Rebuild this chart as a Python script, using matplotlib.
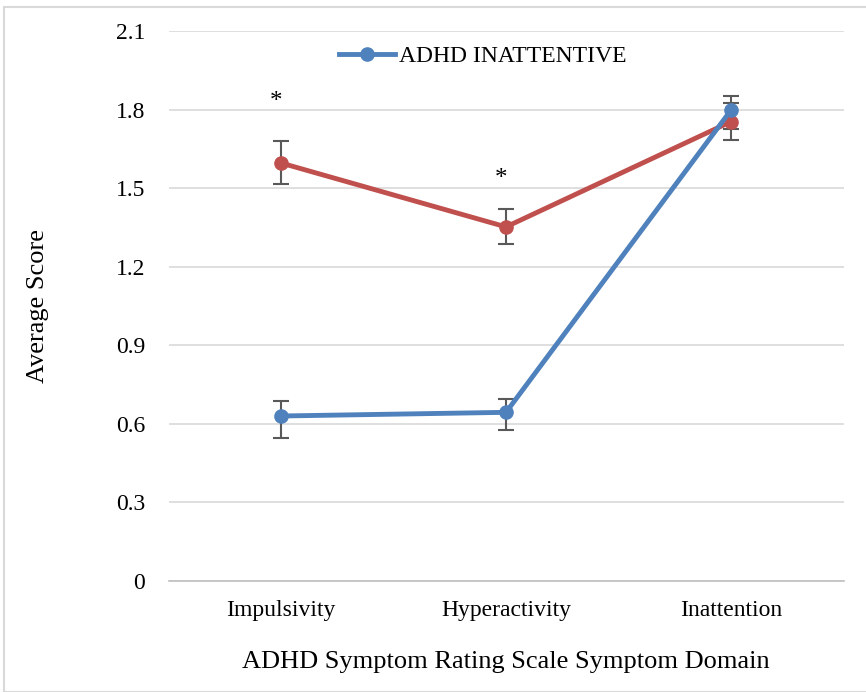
import numpy as np
import matplotlib.pyplot as plt
from matplotlib.patches import Rectangle
from matplotlib.lines import Line2D

plt.rcParams['font.family'] = ['Liberation Serif', 'DejaVu Serif']

domains = ['Impulsivity', 'Hyperactivity', 'Inattention']
inattentive = [0.63, 0.644, 1.798]
inatt_lo = [0.085, 0.067, 0.073]
inatt_hi = [0.058, 0.05, 0.055]
combined = [1.596, 1.352, 1.754]
comb_lo = [0.08, 0.065, 0.07]
comb_hi = [0.084, 0.068, 0.07]
star_pos = [0, 1]
star_y = [1.83, 1.535]

blue = '#4F81BD'
red = '#C0504D'

fig = plt.figure(figsize=(8.66, 6.92), dpi=100)
ax = fig.add_axes([168.5/866, 1-581/692, 675/866, 550/692])
x = np.arange(len(domains))

ax.errorbar(x, combined, yerr=[comb_lo, comb_hi], color=red, lw=3.5,
            marker='o', ms=9.5, ecolor='#595959', elinewidth=1.5, capsize=5.5,
            capthick=1.5, zorder=3)
ax.errorbar(x, inattentive, yerr=[inatt_lo, inatt_hi], color=blue, lw=3.5,
            marker='o', ms=9.5, ecolor='#595959', elinewidth=1.5, capsize=5.5,
            capthick=1.5, zorder=3)

for i, yv in zip(star_pos, star_y):
    ax.text(x[i] - 0.02, yv, '*', ha='center', va='center', fontsize=18)

ax.set_xlim(-0.5, 2.5)
ax.set_ylim(0, 2.1)
ax.set_yticks(np.arange(0, 2.11, 0.3))
ax.set_yticklabels(['0', '0.3', '0.6', '0.9', '1.2', '1.5', '1.8', '2.1'])
ax.set_xticks(x)
ax.set_xticklabels(domains)
ax.tick_params(length=0, labelsize=17, pad=14)
ax.tick_params(axis='y', pad=17)
ax.grid(axis='y', color='#D9D9D9', lw=1.2)
ax.set_axisbelow(True)
for s in ['left', 'right', 'top']:
    ax.spines[s].set_visible(False)
ax.spines['bottom'].set_color('#BFBFBF')
ax.spines['bottom'].set_linewidth(1.2)

ax.set_ylabel('Average Score', fontsize=19, labelpad=48)
ax.set_xlabel('ADHD Symptom Rating Scale Symptom Domain', fontsize=19, labelpad=21)

handle = Line2D([], [], color=blue, lw=3.5, marker='o', ms=9.5)
ax.legend([handle], ['ADHD INATTENTIVE'], loc='upper center',
          bbox_to_anchor=(0.465, 1.012), frameon=False, fontsize=17,
          handlelength=2.4, handletextpad=0.15)

fig.patches.append(Rectangle((4/866, 0), 1, 1 - 7/692, transform=fig.transFigure,
                             fill=False, ec='#D9D9D9', lw=1.5))

fig.savefig('out.png', dpi=100)
